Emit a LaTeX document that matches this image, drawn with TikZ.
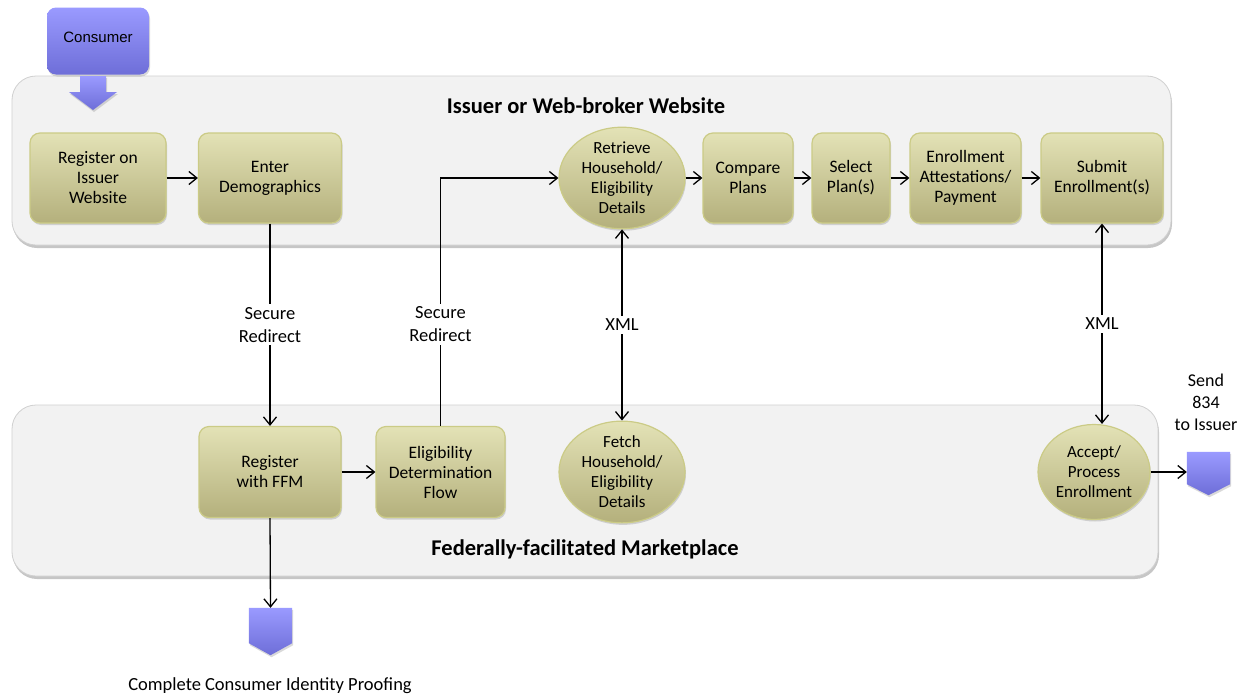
\documentclass[tikz,border=0pt]{standalone}
\usepackage{fontspec}
\setmainfont{Carlito}
\newfontfamily\arialf{Liberation Sans}
\usetikzlibrary{shapes.geometric,arrows.meta,shadows,positioning}
\definecolor{lanefill}{HTML}{F2F2F2}
\definecolor{laneedge}{HTML}{D0D0D0}
\definecolor{oltop}{HTML}{E3E2B6}
\definecolor{olbot}{HTML}{B4B07C}
\definecolor{oledge}{HTML}{CBCB86}
\definecolor{putop}{HTML}{9A9AFF}
\definecolor{pubot}{HTML}{6E6ED8}
\tikzset{
  lane/.style={draw=laneedge, line width=0.8pt, fill=lanefill, rounded corners=24pt,
    drop shadow={shadow xshift=1pt, shadow yshift=-3pt, opacity=0.45, fill=gray}},
  proc/.style={draw=oledge, line width=1.2pt, rounded corners=10pt, top color=oltop, bottom color=olbot,
    align=center, font=\fontsize{17.5}{20}\selectfont, inner sep=2pt,
    drop shadow={shadow xshift=1pt, shadow yshift=-2pt, opacity=0.3}},
  ell/.style={ellipse, draw=oledge, line width=1.2pt, top color=oltop, bottom color=olbot,
    align=center, font=\fontsize{17}{20}\selectfont, inner sep=0pt,
    drop shadow={shadow xshift=1pt, shadow yshift=-2pt, opacity=0.3}},
  conn/.style={line width=1.3pt, -{Straight Barb[length=8pt,width=13pt,line width=1.3pt]}},
  biconn/.style={line width=1.3pt, {Straight Barb[length=8pt,width=13pt,line width=1.3pt]}-{Straight Barb[length=8pt,width=13pt,line width=1.3pt]}},
  lbl/.style={fill=white, align=center, font=\fontsize{18.5}{23}\selectfont, inner sep=3pt},
  title/.style={font=\fontsize{22.5}{26}\selectfont\bfseries},
  purple/.style={top color=putop, bottom color=pubot, draw=none,
    drop shadow={shadow xshift=1pt, shadow yshift=-2pt, opacity=0.3}},
}
\begin{document}
\begin{tikzpicture}[x=1pt,y=-1pt]
\useasboundingbox (0,0) rectangle (1252,696);

% lanes
\path[lane] (12,76) rectangle (1171,245);
\path[lane] (12,405) rectangle (1158,576);
\node[title] (t1) at (586,106) {Issuer or Web-broker Website};
\node[title] (t2) at (585,549) {Federally-facilitated Marketplace};

% consumer
\node[purple, rounded corners=9pt, minimum width=102pt, minimum height=67pt,
  font=\arialf\fontsize{15}{17}\selectfont, text depth=0pt] (cons) at (98,41) {\raisebox{7pt}{Consumer}};
\path[purple] (80,76) -- (106,76) -- (106,92) -- (117,92) -- (93,110) -- (69,92) -- (80,92) -- cycle;

% top row
\node[proc, minimum width=136pt, minimum height=90pt] (reg) at (98,178) {Register on\\Issuer\\Website};
\node[proc, minimum width=143pt, minimum height=90pt] (dem) at (270,178) {Enter\\Demographics};
\node[ell, minimum width=126pt, minimum height=91pt] (ret) at (622,178) {Retrieve\\Household/\\Eligibility\\Details};
\node[proc, minimum width=90pt, minimum height=90pt] (cmp) at (748,178) {Compare\\Plans};
\node[proc, minimum width=78pt, minimum height=90pt] (sel) at (851,178) {Select\\Plan(s)};
\node[proc, minimum width=111pt, minimum height=90pt] (att) at (965.5,178) {Enrollment\\Attestations/\\Payment};
\node[proc, minimum width=122pt, minimum height=90pt] (sub) at (1102,178) {Submit\\Enrollment(s)};

% bottom row
\node[proc, minimum width=142pt, minimum height=91pt] (ffm) at (270,472) {Register\\with FFM};
\node[proc, minimum width=129pt, minimum height=91pt] (edf) at (440.5,472) {Eligibility\\Determination\\Flow};
\node[ell, minimum width=126pt, minimum height=95pt] (fet) at (622,472) {Fetch\\Household/\\Eligibility\\Details};
\node[ell, minimum width=112pt, minimum height=95pt] (acc) at (1094,472) {Accept/\\Process\\Enrollment};

% purple end markers
\node[minimum width=43pt, minimum height=47pt, inner sep=0pt] (idp) at (270.5,631.5) {};
\path[purple] (idp.north west) -- (idp.north east) -- ([yshift=12pt]idp.south east) -- (idp.south) -- ([yshift=12pt]idp.south west) -- cycle;
\node[font=\fontsize{18.5}{22}\selectfont] (idpt) at (270,686) {Complete Consumer Identity Proofing};

\node[minimum width=43pt, minimum height=43pt, inner sep=0pt] (snd) at (1208.5,473.5) {};
\path[purple] (snd.north west) -- (snd.north east) -- ([yshift=11pt]snd.south east) -- (snd.south) -- ([yshift=11pt]snd.south west) -- cycle;
\node[lbl, fill=none, font=\fontsize{18}{22}\selectfont] (sndt) at (1206,402) {Send\\834\\to Issuer};

% connectors
\draw[conn] (reg) -- (dem);
\draw[conn] (ret) -- (cmp);
\draw[conn] (cmp) -- (sel);
\draw[conn] (sel) -- (att);
\draw[conn] (att) -- (sub);
\draw[conn] (ffm) -- (edf);
\draw[conn] (acc) -- (snd.west |- acc);
\draw[conn] (dem.south) -- node[lbl, pos=0.5] {Secure\\Redirect} (ffm.north);
\draw[conn] (edf.north) -- node[lbl, pos=0.41] {Secure\\Redirect} (edf.north |- ret.west) -- (ret.west);
\draw[biconn] (ret.south) -- node[lbl] {XML} (fet.north);
\draw[biconn] (sub.south) -- node[lbl] {XML} (sub.south |- acc.north);
\draw[conn] (ffm.south) -- (idp.north);
\end{tikzpicture}
\end{document}
